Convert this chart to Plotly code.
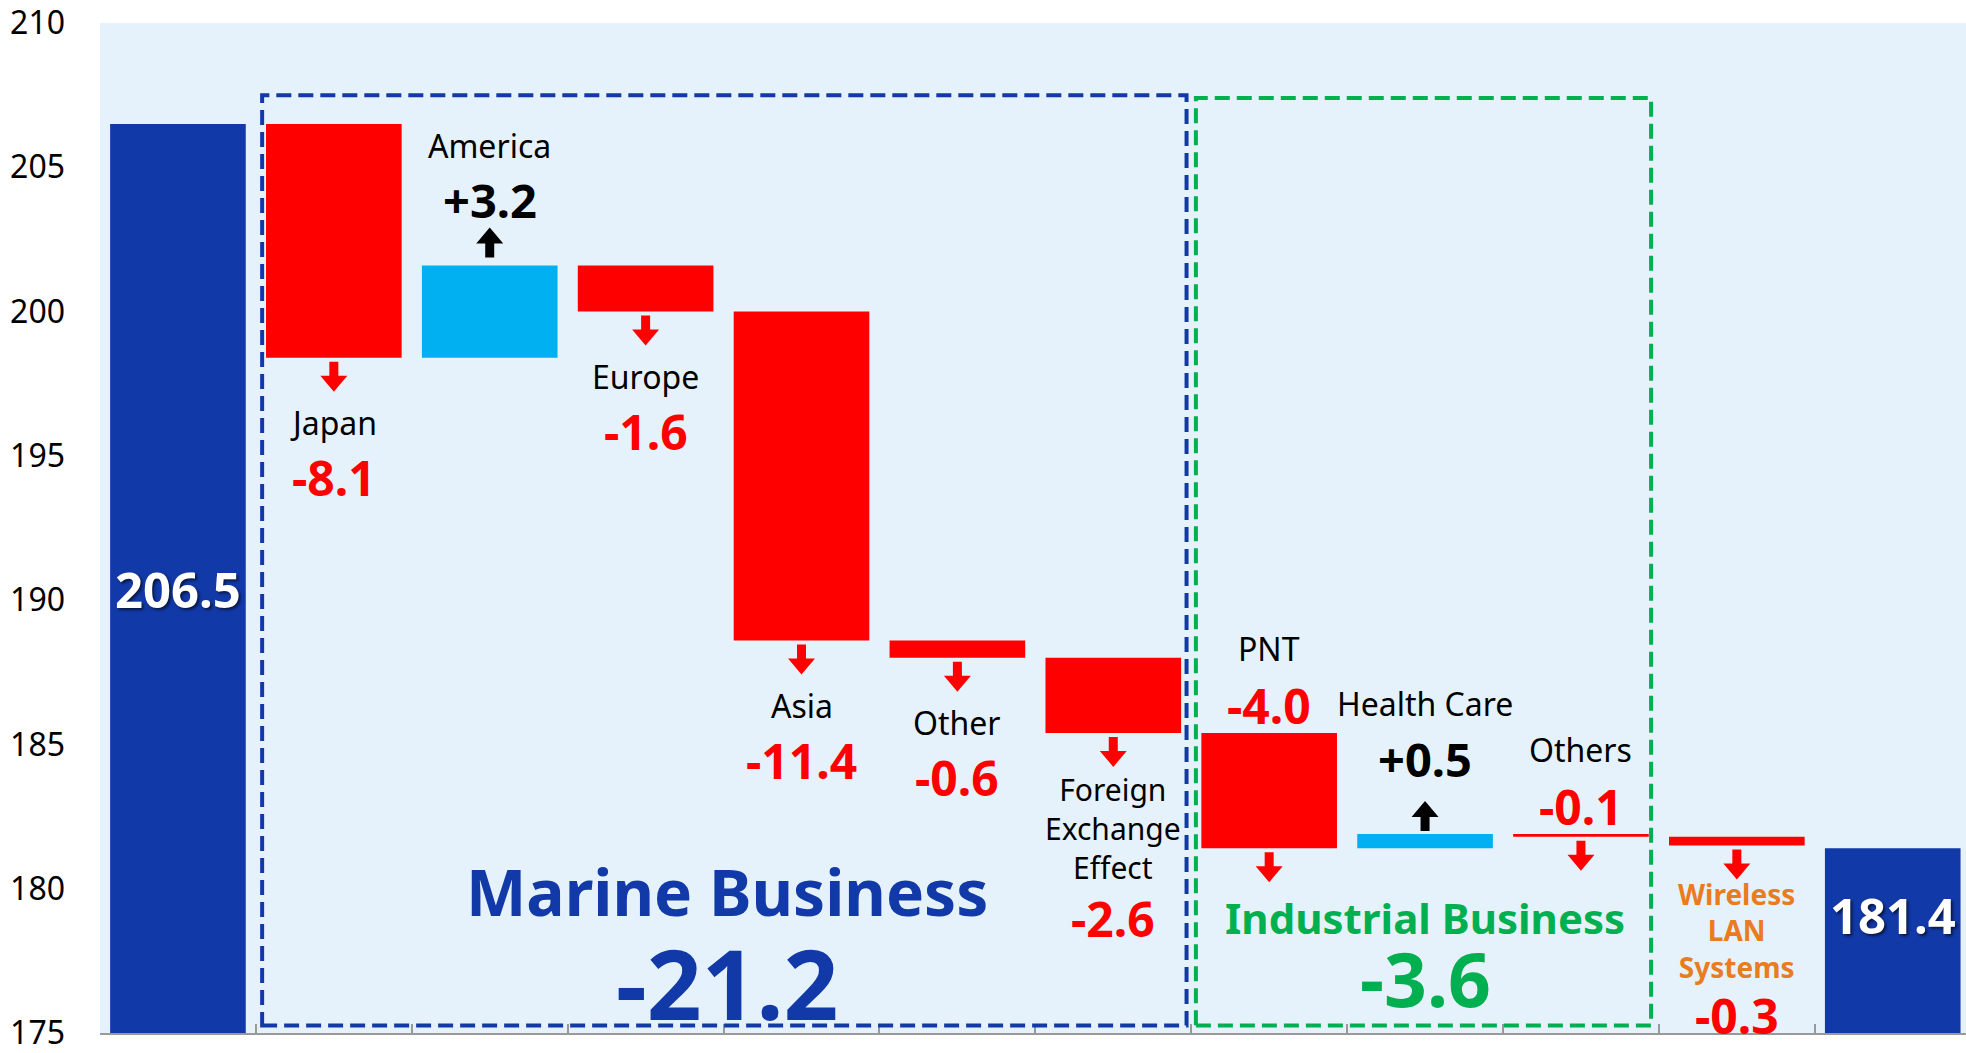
import plotly.graph_objects as go

# Revenue bridge: previous year -> current year (billion yen)
categories = ["Previous", "Japan", "America", "Europe", "Asia", "Other",
              "Foreign Exchange Effect", "PNT", "Health Care", "Others",
              "Wireless LAN Systems", "Current"]
values = [206.5, -8.1, 3.2, -1.6, -11.4, -0.6, -2.6, -4.0, 0.5, -0.1, -0.3, 181.4]
measures = ["absolute"] + ["relative"] * 10 + ["absolute"]
value_labels = ["206.5", "-8.1", "+3.2", "-1.6", "-11.4", "-0.6", "-2.6",
                "-4.0", "+0.5", "-0.1", "-0.3", "181.4"]
segment_names = ["Marine Business", "Industrial Business"]
segment_totals = ["-21.2", "-3.6"]
y_ticks = [175, 180, 185, 190, 195, 200, 205, 210]

FONT = "Noto Sans"
RED = "#FF0000"
CYAN = "#00B0F0"
NAVY = "#1239A8"
GREEN = "#00B050"
ORANGE = "#E97C1E"

x_pos = list(range(len(categories)))

# bar extents, so labels can be hung off the bar edges
lows, highs = [], []
run = 0.0
for v, m in zip(values, measures):
    if m == "absolute":
        lo, hi = 0.0, v
        run = v
    else:
        lo, hi = sorted([run, run + v])
        run += v
    lows.append(lo)
    highs.append(hi)

fig = go.Figure(go.Waterfall(
    x=x_pos, y=values, measure=measures,
    decreasing=dict(marker=dict(color=RED, line=dict(width=0))),
    increasing=dict(marker=dict(color=CYAN, line=dict(width=0))),
    totals=dict(marker=dict(color=NAVY, line=dict(width=0))),
    connector=dict(visible=False),
    textinfo="none", hoverinfo="skip",
))


def label(i, y, text, shift=0, size=32, color="black", bold=False, shadow=None):
    font = dict(family=FONT, size=size, color=color)
    if shadow:
        font["shadow"] = shadow
    fig.add_annotation(x=i, y=y, yshift=shift, showarrow=False,
                       text=f"<b>{text}</b>" if bold else text,
                       xanchor="center", yanchor="middle", font=font)


def arrow(i, y, down, color, start=4):
    s = -1 if down else 1
    pts = [(-4.5, start), (4.5, start), (4.5, start + 14), (13.5, start + 14),
           (0, start + 30), (-13.5, start + 14), (-4.5, start + 14)]
    path = "M " + " L ".join(f"{px},{s * py}" for px, py in pts) + " Z"
    fig.add_shape(type="path", xref="x", yref="y", xsizemode="pixel",
                  ysizemode="pixel", xanchor=i, yanchor=y, path=path,
                  fillcolor=color, line=dict(width=0))


# decreases labelled below the bar
for i in [1, 3, 4, 5]:
    arrow(i, lows[i], True, RED)
    label(i, lows[i], categories[i], -65)
    label(i, lows[i], value_labels[i], -120, 48, RED, True)

# foreign exchange, three-line name
arrow(6, lows[6], True, RED)
label(6, lows[6], "Foreign<br>Exchange<br>Effect", -96, 30)
label(6, lows[6], value_labels[6], -186, 48, RED, True)

# increases labelled above
arrow(2, highs[2], False, "black", 8)
label(2, highs[2], value_labels[2], 65, 47, "black", True)
label(2, highs[2], categories[2], 120)
arrow(8, highs[8], False, "black", 3)
label(8, highs[8], value_labels[8], 75, 47, "black", True)
label(8, highs[8], categories[8], 130)

# industrial decreases labelled above, arrow below
for i in [7, 9]:
    arrow(i, lows[i], True, RED)
    label(i, highs[i], value_labels[i], 27, 48, RED, True)
    label(i, highs[i], categories[i], 84)

# wireless LAN
arrow(10, lows[10], True, RED)
label(10, lows[10], "Wireless<br>LAN<br>Systems", -85, 28, ORANGE, True)
label(10, lows[10], value_labels[10], -170, 48, RED, True)

# totals
label(0, 190.4, value_labels[0], 0, 49, "white", True, "2px 2px 3px rgba(0,0,0,0.6)")
label(11, 179.1, value_labels[11], 0, 49, "white", True, "2px 2px 3px rgba(0,0,0,0.6)")

# segment boxes and totals
fig.add_shape(type="rect", xref="x", yref="y", x0=0.54, x1=6.47, y0=175.26, y1=207.5,
              line=dict(color=NAVY, width=4, dash="15px,7px"))
fig.add_shape(type="rect", xref="x", yref="y", x0=6.53, x1=9.45, y0=175.26, y1=207.4,
              line=dict(color=GREEN, width=4, dash="15px,7px"))
label(3.52, 179.9, segment_names[0], 0, 64, NAVY, True)
label(3.52, 176.75, segment_totals[0], 0, 96, NAVY, True)
label(8.0, 179.0, segment_names[1], 0, 42, GREEN, True)
label(8.0, 176.9, segment_totals[1], 0, 75, GREEN, True)

fig.update_layout(
    width=1966, height=1053,
    margin=dict(l=100, r=0, t=18, b=14),
    paper_bgcolor="white", plot_bgcolor="#E6F2FB",
    showlegend=False, waterfallgap=0.13,
    xaxis=dict(range=[-0.5, 11.47], tickvals=[i - 0.5 for i in x_pos],
               ticks="inside", ticklen=9, tickwidth=2, tickcolor="#999999",
               showticklabels=False, showline=True, linecolor="#999999",
               linewidth=2, showgrid=False, zeroline=False, layer="below traces"),
    yaxis=dict(range=[175, 210], tickvals=y_ticks, showgrid=False,
               zeroline=False, showline=False, ticks="", ticklabelstandoff=34,
               ticklabeloverflow="allow",
               tickfont=dict(family=FONT, size=32, color="black")),
)

fig.write_html("out.html", config={"displayModeBar": False},
               post_script="document.body.style.margin='0';")
